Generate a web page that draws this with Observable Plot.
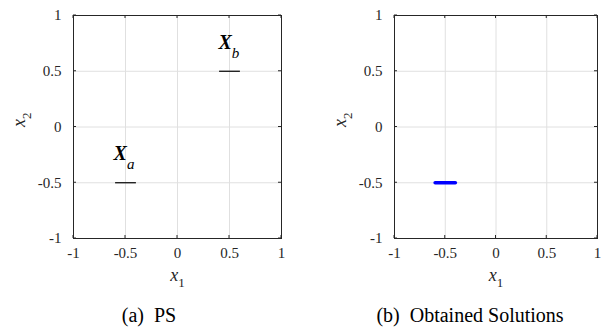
<!DOCTYPE html>
<html>
<head>
<meta charset="utf-8">
<script src="https://cdn.jsdelivr.net/npm/d3@7"></script>
<script src="https://cdn.jsdelivr.net/npm/@observablehq/plot@0.6"></script>
<style>
  html, body { margin: 0; padding: 0; background: #fff; font-family: 'Liberation Serif', Tinos, serif; }
  #root { position: relative; width: 603px; height: 333px; overflow: hidden; font-family: 'Liberation Serif', Tinos, serif; }
  .panel { position: absolute; top: 0; }
  .panel svg { overflow: visible; }
  .caption { position: absolute; top: 305px; font-size: 20px; line-height: 20px; white-space: pre; color: #000; transform: translateX(-50%); font-family: 'Liberation Serif', Tinos, serif; }
</style>
</head>
<body>
<div id="root">
  <div class="panel" id="pa" style="left:0px"></div>
  <div class="panel" id="pb" style="left:300px"></div>
  <div class="caption" style="left:149px">(a)  PS</div>
  <div class="caption" style="left:470px">(b)  Obtained Solutions</div>
</div>
<script>
// ---- data ----
const xTicks = [-1, -0.5, 0, 0.5, 1];
const yTicks = [-1, -0.5, 0, 0.5, 1];
const xTickLabels = ["-1", "-0.5", "0", "0.5", "1"];
const yTickLabels = ["-1", "-0.5", "0", "0.5", "1"];

// Pareto set segments (panel a)
const psName = ["a", "b"];
const psX1 = [-0.6, 0.4];
const psX2 = [-0.4, 0.6];
const psY = [-0.5, 0.5];
// label anchor for each set (data coords)
const psLabelX = [-0.615, 0.394];
const psLabelY = [-0.235, 0.76];

// Obtained solutions (panel b)
const solX = [-0.6, -0.55, -0.5, -0.45, -0.4];
const solY = [-0.5, -0.5, -0.5, -0.5, -0.5];

const psSegments = psName.map((n, i) => ({name: n, x1: psX1[i], x2: psX2[i], y: psY[i]}));
const psLabels = psName.map((n, i) => ({name: n, x: psLabelX[i], y: psLabelY[i]}));
const solutions = solX.map((x, i) => ({x, y: solY[i]}));

const FONT = "'Liberation Serif', Tinos, serif";
const INK = "#262626";

function fmt(labels, ticks) {
  return d => labels[ticks.indexOf(d)] ?? "";
}

function basePlot({width, marginLeft, marginRight, marks}) {
  return Plot.plot({
    width, height: 270,
    marginLeft, marginRight, marginTop: 15, marginBottom: 32,
    style: {fontFamily: FONT, fontSize: "15px", color: INK, background: "transparent", overflow: "visible"},
    x: {domain: [-1, 1], label: null},
    y: {domain: [-1, 1], label: null},
    marks: [
      Plot.gridX(xTicks, {stroke: "#e0e0e0", strokeOpacity: 1, strokeWidth: 1}),
      Plot.gridY(yTicks, {stroke: "#e0e0e0", strokeOpacity: 1, strokeWidth: 1}),
      ...marks,
      Plot.axisX(xTicks, {anchor: "bottom", tickSize: 0, tickPadding: 9, tickFormat: fmt(xTickLabels, xTicks), fill: INK, fontSize: 15}),
      Plot.axisY(yTicks, {anchor: "left", tickSize: 0, tickPadding: 12, tickFormat: fmt(yTickLabels, yTicks), fill: INK, fontSize: 15}),
      Plot.frame({stroke: INK, strokeWidth: 1}),
      Plot.text(["x1"], {frameAnchor: "bottom", dy: 42, text: d => d, fontSize: 18, fill: INK}),
      Plot.text(["x2"], {frameAnchor: "left", dx: -54, rotate: -90, text: d => d, fontSize: 18, fill: INK})
    ]
  });
}

function textsOf(svg, content) {
  return d3.select(svg).selectAll("text").filter(function() { return d3.select(this).text() === content && this.children.length === 0; });
}

function subscriptLabel(svg, content, base, sub) {
  textsOf(svg, content).each(function() {
    const t = d3.select(this);
    t.text(null);
    t.append("tspan").attr("font-style", "italic").text(base);
    t.append("tspan").attr("font-size", 13).attr("dy", 6).text(sub);
  });
}

// small inward ticks on all four sides, placed through the plot's scales
function addInwardTicks(svg) {
  const sx = svg.scale("x"), sy = svg.scale("y");
  const [xl, xr] = sx.range, [yb, yt] = sy.range;
  const g = d3.select(svg).append("g").attr("stroke", INK).attr("stroke-width", 1);
  xTicks.forEach(v => {
    const px = sx.apply(v);
    g.append("line").attr("x1", px).attr("x2", px).attr("y1", yb).attr("y2", yb - 3);
    g.append("line").attr("x1", px).attr("x2", px).attr("y1", yt).attr("y2", yt + 3);
  });
  yTicks.forEach(v => {
    const py = sy.apply(v);
    g.append("line").attr("y1", py).attr("y2", py).attr("x1", xl).attr("x2", xl + 3);
    g.append("line").attr("y1", py).attr("y2", py).attr("x1", xr).attr("x2", xr - 3);
  });
}

function setFont(svg) {
  d3.select(svg).attr("font-family", FONT);
  d3.select(svg).selectAll("text").attr("font-family", FONT).style("font-family", FONT);
}

// Panel (a)
const plotA = basePlot({
  width: 300, marginLeft: 73, marginRight: 19,
  marks: [
    Plot.link(psSegments, {x1: "x1", x2: "x2", y1: "y", y2: "y", stroke: "#000", strokeWidth: 1.2}),
    Plot.text(psLabels, {x: "x", y: "y", text: d => "set_" + d.name, textAnchor: "start", fontSize: 20, fill: "#000"})
  ]
});
subscriptLabel(plotA, "x1", "x", "1");
subscriptLabel(plotA, "x2", "x", "2");
psName.forEach(name => {
  textsOf(plotA, "set_" + name).each(function() {
    const t = d3.select(this);
    t.text(null);
    t.append("tspan").attr("font-style", "italic").attr("font-weight", "bold").text("X");
    t.append("tspan").attr("font-style", "italic").attr("font-size", 15).attr("dy", 9).text(name);
  });
});
addInwardTicks(plotA);
setFont(plotA);
document.getElementById("pa").appendChild(plotA);

// Panel (b)
const plotB = basePlot({
  width: 301, marginLeft: 94, marginRight: 4,
  marks: [
    Plot.line(solutions, {x: "x", y: "y", stroke: "#0000ff", strokeWidth: 3.5, strokeLinecap: "round"})
  ]
});
subscriptLabel(plotB, "x1", "x", "1");
subscriptLabel(plotB, "x2", "x", "2");
addInwardTicks(plotB);
setFont(plotB);
document.getElementById("pb").appendChild(plotB);
</script>
</body>
</html>
